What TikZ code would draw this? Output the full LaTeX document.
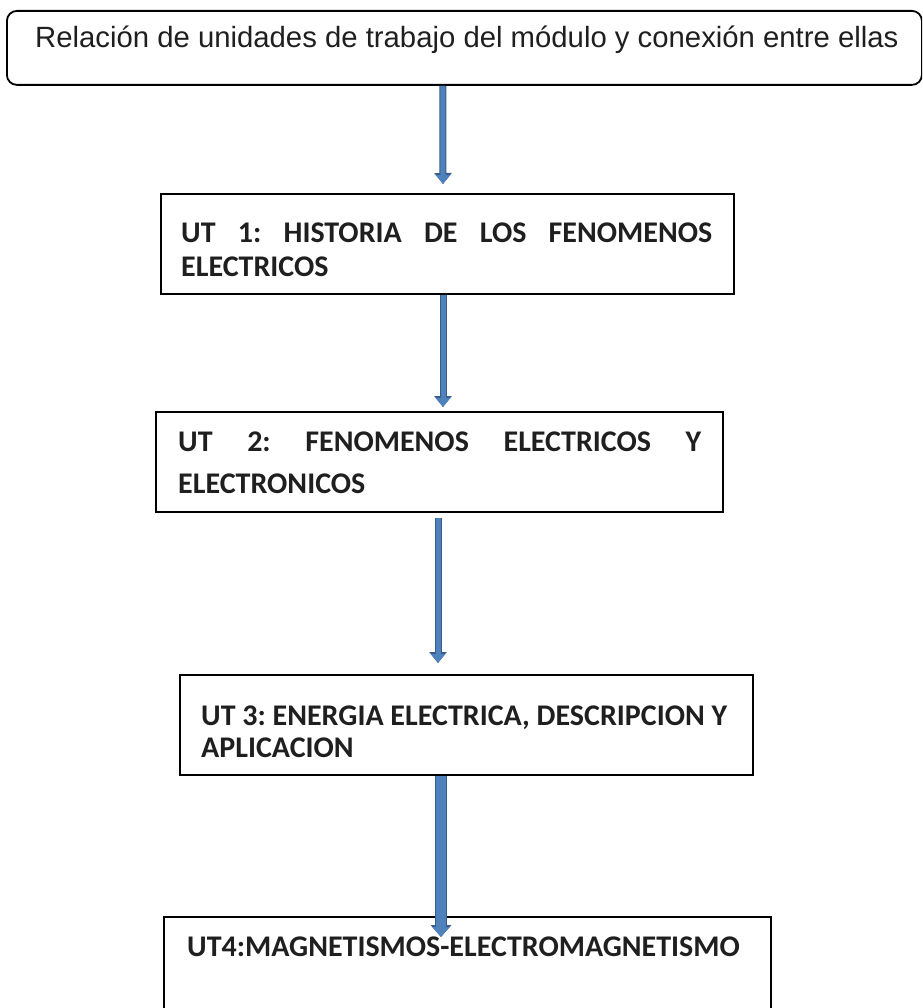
\documentclass[tikz,border=0pt]{standalone}
\usepackage{fontspec}
\setmainfont{Carlito}
\newfontfamily\arialfont{Liberation Sans}
\usetikzlibrary{arrows.meta, positioning}
\definecolor{flowblue}{RGB}{79, 129, 189}
\definecolor{flowedge}{RGB}{56, 93, 138}
\frenchspacing

\begin{document}
\begin{tikzpicture}[x=1pt, y=-1pt,
  unitbox/.style={draw=black, line width=2pt, anchor=north west, inner sep=0pt, minimum height=100pt},
  unitline/.style={anchor=base west, inner sep=0pt, font=\fontsize{30}{36}\selectfont\bfseries, text=black!88},
  flow/.style={line width=5pt, flowblue, -{Triangle[width=14pt,length=9pt]},
    preaction={draw=flowedge, line width=7pt, -{Triangle[width=17pt,length=11pt]}}},
  bigflow/.style={line width=10pt, flowblue, -{Triangle[width=17pt,length=10pt]},
    preaction={draw=flowedge, line width=12pt, -{Triangle[width=20pt,length=12pt]}}}]

\path[use as bounding box, clip] (0,0) rectangle (922,1008);

% Title
\node[draw=black, line width=1.8pt, rounded corners=10pt, anchor=north west, inner sep=0pt,
  minimum width=915pt, minimum height=74pt] at (6,10) (title) {};
\node[anchor=base west, inner sep=0pt, text=black!88, xshift=29pt, yshift=-38pt] at (title.north west) (titletext)
  {\arialfont\fontsize{29.3}{35}\selectfont Relación de unidades de trabajo del módulo y conexión entre ellas};

% UT 1
\node[unitbox, minimum width=573pt] at (160,193) (u1) {};
\node[unitline, xshift=21pt, yshift=-49pt] at (u1.north west) (u1a) {\makebox[531pt][s]{UT 1: HISTORIA DE LOS FENOMENOS}};
\node[unitline, xshift=21pt, yshift=-83pt] at (u1.north west) (u1b) {ELECTRICOS};

% UT 2
\node[unitbox, minimum width=567pt] at (155,411) (u2) {};
\node[unitline, xshift=23pt, yshift=-40pt] at (u2.north west) (u2a) {\makebox[523pt][s]{UT 2: FENOMENOS ELECTRICOS Y}};
\node[unitline, xshift=23pt, yshift=-82pt] at (u2.north west) (u2b) {ELECTRONICOS};

% UT 3
\node[unitbox, minimum width=573pt] at (179,674) (u3) {};
\node[unitline, xshift=22pt, yshift=-51pt] at (u3.north west) (u3a) {UT 3: ENERGIA ELECTRICA, DESCRIPCION Y};
\node[unitline, xshift=22pt, yshift=-83pt] at (u3.north west) (u3b) {APLICACION};

% UT 4
\node[unitbox, minimum width=607pt, minimum height=130pt] at (163,916) (u4) {};
\node[unitline, xshift=24pt, yshift=-40pt] at (u4.north west) (u4a) {UT4:MAGNETISMOS-ELECTROMAGNETISMO};

% Connections
\draw[flow] ([xshift=-21.5pt]title.south) -- ([xshift=-4.5pt, yshift=9pt]u1.north);
\draw[flow] ([xshift=-4.5pt]u1.south) -- ([xshift=3.5pt, yshift=4pt]u2.north);
\draw[flow] ([xshift=-1.5pt, yshift=-5pt]u2.south) -- ([xshift=-28.5pt, yshift=11pt]u3.north);
\draw[bigflow] ([xshift=-25.5pt]u3.south) -- ([xshift=-26.5pt, yshift=-21pt]u4.north);

\end{tikzpicture}
\end{document}
